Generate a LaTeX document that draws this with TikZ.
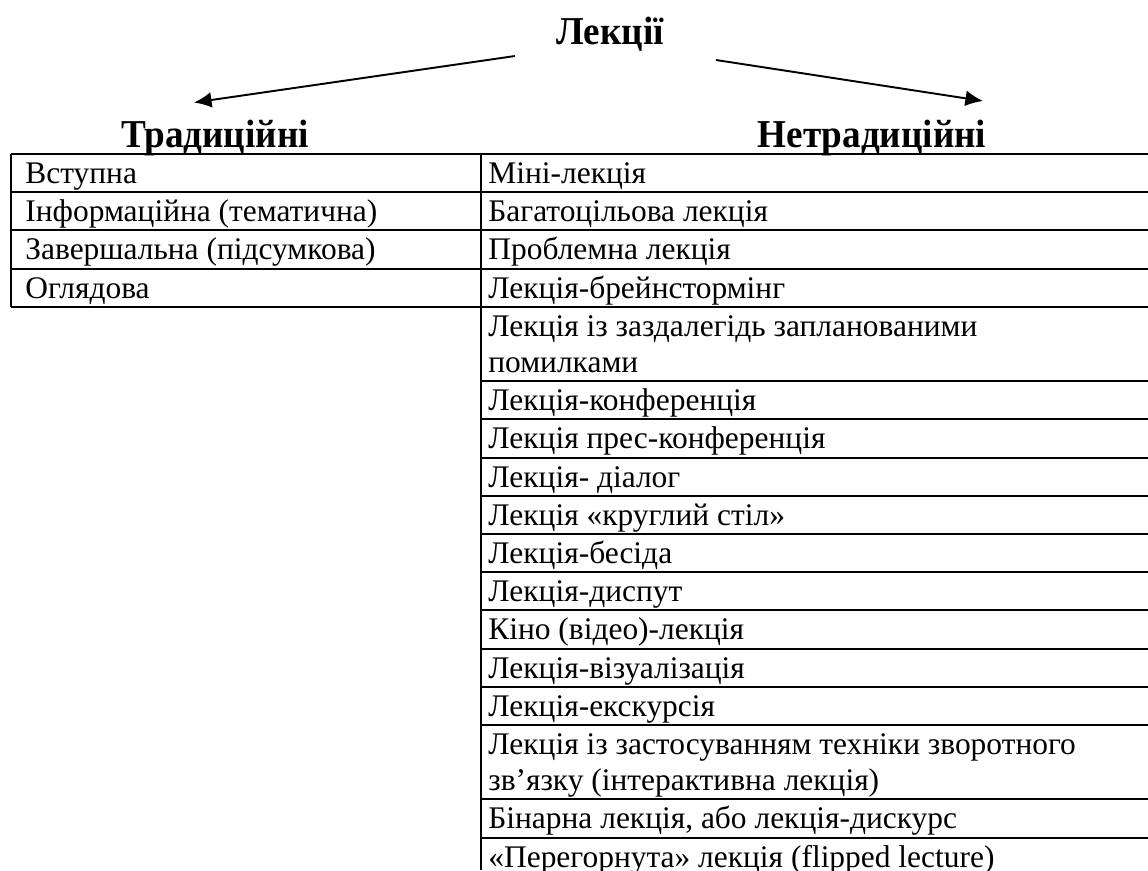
\documentclass[tikz,border=0pt]{standalone}
\usepackage{fontspec}
\setmainfont{Liberation Serif}
\newfontfamily\headfont[FakeStretch=0.94]{Liberation Serif}
\usetikzlibrary{arrows.meta}

\begin{document}
\begin{tikzpicture}[
    x=0.02cm, y=-0.02cm,
    cell/.style={anchor=base west, inner sep=0pt, font=\fontsize{17.9}{21.5}\selectfont},
    head/.style={anchor=base, inner sep=0pt, font=\headfont\fontsize{22.5}{26}\selectfont\bfseries},
    grid/.style={line width=1.1pt},
    branch/.style={-{Latex[length=10pt, width=9pt]}, line width=1.1pt},
  ]
  \useasboundingbox (0,0) rectangle (1148,870);

  % Headings
  \node[head] (lect) at (610,44) {Лекції};
  \node[head] (trad) at (215,147) {Традиційні};
  \node[head] (netrad) at (872,147) {Нетрадиційні};

  % Branches
  \coordinate (lfrom) at (515,56);
  \coordinate (lto) at (194,102.5);
  \coordinate (rfrom) at (716,60);
  \coordinate (rto) at (983,101);
  \draw[branch] (lfrom) -- (lto);
  \draw[branch] (rfrom) -- (rto);

  % Table grid
  \foreach \y in {154, 192.2, 230.4, 268.6, 306.8}
    \draw[grid] (11,\y) -- (1148,\y);
  \foreach \y in {381.2, 419.4, 457.6, 495.8, 534, 572.2, 610.4, 648.6, 686.8, 725, 799.4, 837.6}
    \draw[grid] (481,\y) -- (1148,\y);
  \draw[grid] (11,154) -- (11,306.8);
  \draw[grid] (481,154) -- (481,870);

  % Traditional
  \node[cell] (l1) at (25,183.4) {Вступна};
  \node[cell] (l2) at (25,221.6) {Інформаційна (тематична)};
  \node[cell] (l3) at (25,259.8) {Завершальна (підсумкова)};
  \node[cell] (l4) at (25,298) {Оглядова};

  % Non-traditional
  \node[cell] (r1) at (488,183.4) {Міні-лекція};
  \node[cell] (r2) at (488,221.6) {Багатоцільова лекція};
  \node[cell] (r3) at (488,259.8) {Проблемна лекція};
  \node[cell] (r4) at (488,298) {Лекція-брейнстормінг};
  \node[cell] (r5a) at (488,336.2) {Лекція із заздалегідь запланованими};
  \node[cell] (r5b) at (488,372.4) {помилками};
  \node[cell] (r6) at (488,410.6) {Лекція-конференція};
  \node[cell] (r7) at (488,448.8) {Лекція прес-конференція};
  \node[cell] (r8) at (488,487) {Лекція- діалог};
  \node[cell] (r9) at (488,525.2) {Лекція «круглий стіл»};
  \node[cell] (r10) at (488,563.4) {Лекція-бесіда};
  \node[cell] (r11) at (488,601.6) {Лекція-диспут};
  \node[cell] (r12) at (488,639.8) {Кіно (відео)-лекція};
  \node[cell] (r13) at (488,678) {Лекція-візуалізація};
  \node[cell] (r14) at (488,716.2) {Лекція-екскурсія};
  \node[cell] (r15a) at (488,754.4) {Лекція із застосуванням техніки зворотного};
  \node[cell] (r15b) at (488,790.6) {зв’язку (інтерактивна лекція)};
  \node[cell] (r16) at (488,828.8) {Бінарна лекція, або лекція-дискурс};
  \node[cell] (r17) at (488,867) {«Перегорнута» лекція (flipped lecture)};
\end{tikzpicture}
\end{document}
